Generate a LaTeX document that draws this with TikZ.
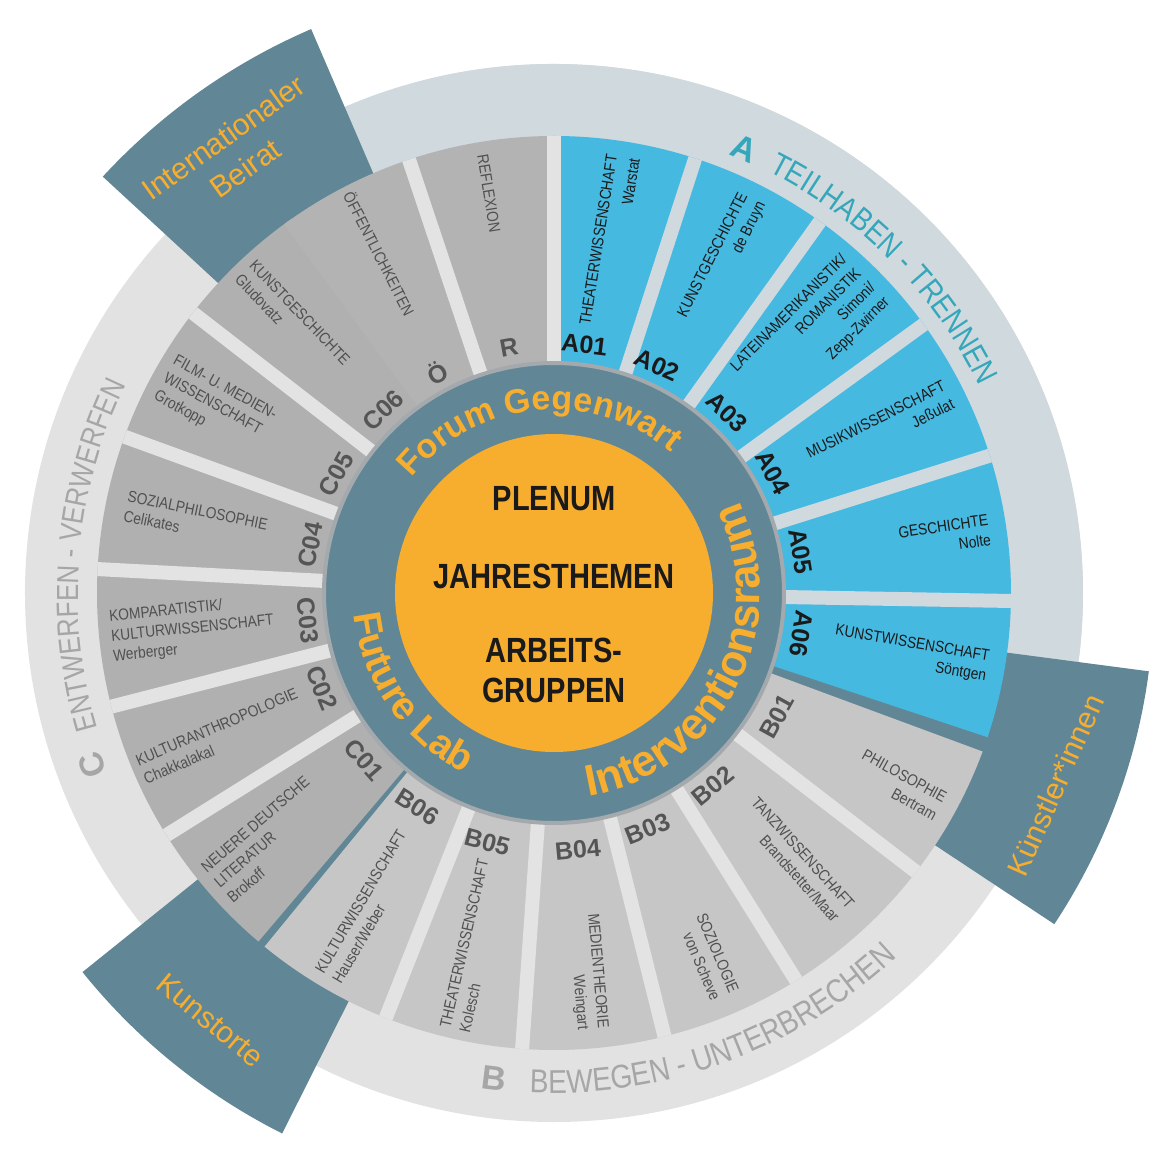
\documentclass[tikz,border=0pt]{standalone}
\usepackage{fontspec}
\setmainfont{Liberation Sans}
\newfontfamily\condfont[FakeStretch=0.83]{Liberation Sans}
\newfontfamily\bandfont[FakeStretch=0.85]{Liberation Sans}
\newfontfamily\namefont[FakeStretch=0.86]{Liberation Sans}
\usepackage{xcolor}
\usetikzlibrary{decorations.text}

\definecolor{orangeC}{HTML}{F7AE2F}
\definecolor{slate}{HTML}{618796}
\definecolor{skyA}{HTML}{46B9E1}
\definecolor{greyB}{HTML}{C6C6C6}
\definecolor{greyC}{HTML}{B0B0B0}
\definecolor{greyR}{HTML}{B3B3B3}
\definecolor{bandA}{HTML}{CFD9DE}
\definecolor{bandG}{HTML}{E2E2E2}
\definecolor{gapL}{HTML}{E3E3E3}
\definecolor{tealT}{HTML}{35A7BA}
\definecolor{bandtxt}{HTML}{A6A6A6}
\definecolor{codeG}{HTML}{555555}
\definecolor{nameG}{HTML}{505050}
\definecolor{ink}{HTML}{1A1A1A}
\definecolor{rim}{HTML}{A3A9AC}

\newcommand\ringfontS{\bfseries\fontsize{34}{34}\selectfont}
\newcommand\ringfontL{\bfseries\fontsize{44}{44}\selectfont}
\newcommand\ringfontM{\bfseries\fontsize{39}{39}\selectfont}
\newcommand\bandfontA{\bandfont\fontsize{32}{32}\selectfont}
\newcommand\bandfontB{\bandfont\fontsize{33}{33}\selectfont}
\newcommand\bandfontC{\bandfont\fontsize{30.5}{30.5}\selectfont}

\begin{document}
\begin{tikzpicture}[
    x=1pt, y=1pt,
    codelbl/.style={font=\bfseries\fontsize{25}{25}\selectfont, text=codeG, inner sep=0pt},
    codeA/.style={codelbl, text=ink},
    nameout/.style={font=\namefont\fontsize{16}{20}\selectfont, text=nameG, align=right,
                    anchor=east, inner sep=0pt},
    namein/.style={font=\namefont\fontsize{16}{20}\selectfont, text=nameG, align=left,
                   anchor=west, inner sep=0pt},
    nameA/.style={nameout, text=ink},
    boxlabel/.style={font=\fontsize{30}{38}\selectfont, text=orangeC, align=center, inner sep=0pt},
    corelbl/.style={font=\condfont\bfseries\fontsize{35}{35}\selectfont, text=ink, inner sep=0pt},
    sectionletter/.style={font=\bfseries\fontsize{34}{34}\selectfont, inner sep=0pt},
    gapA/.style={draw=bandA, line width=14},
    gapG/.style={draw=gapL, line width=14}
]
\useasboundingbox (-554,-569) rectangle (608,593);

% Outer bands
\fill[bandG] (0,0) circle[radius=529];
\fill[bandA] (0,0) -- (125:529) arc[start angle=125, end angle=-20, radius=529] -- cycle;

% Dark boxes behind the segments
\fill[slate] (0,0) -- (137.3:614) arc[start angle=137.3, end angle=113.3, radius=614] -- cycle;
\fill[slate] (0,0) -- (-7.5:600) arc[start angle=-7.5, end angle=-33.5, radius=600] -- cycle;
\fill[slate] (0,0) -- (-116.7:605) arc[start angle=-116.7, end angle=-141.2, radius=605] -- cycle;

% Segments
\fill[greyR] (0,0) -- (108.5:457) arc[start angle=108.5, end angle=90, radius=457] -- cycle;
\fill[skyA]  (0,0) -- (90:457) arc[start angle=90, end angle=72, radius=457] -- cycle;
\fill[skyA]  (0,0) -- (72:457) arc[start angle=72, end angle=54.4, radius=457] -- cycle;
\fill[skyA]  (0,0) -- (54.4:457) arc[start angle=54.4, end angle=36, radius=457] -- cycle;
\fill[skyA]  (0,0) -- (36:457) arc[start angle=36, end angle=17.5, radius=457] -- cycle;
\fill[skyA]  (0,0) -- (17.5:457) arc[start angle=17.5, end angle=-1, radius=457] -- cycle;
\fill[skyA]  (0,0) -- (-1:457) arc[start angle=-1, end angle=-18.4, radius=457] -- cycle;
\fill[greyB] (0,0) -- (-20.3:457) arc[start angle=-20.3, end angle=-37.6, radius=457] -- cycle;
\fill[greyB] (0,0) -- (-37.6:457) arc[start angle=-37.6, end angle=-58, radius=457] -- cycle;
\fill[greyB] (0,0) -- (-58:457) arc[start angle=-58, end angle=-76, radius=457] -- cycle;
\fill[greyB] (0,0) -- (-76:457) arc[start angle=-76, end angle=-94, radius=457] -- cycle;
\fill[greyB] (0,0) -- (-94:457) arc[start angle=-94, end angle=-111.6, radius=457] -- cycle;
\fill[greyB] (0,0) -- (-111.6:457) arc[start angle=-111.6, end angle=-129.3, radius=457] -- cycle;
\fill[greyC] (0,0) -- (-130.3:457) arc[start angle=-130.3, end angle=-148, radius=457] -- cycle;
\fill[greyC] (0,0) -- (-148:457) arc[start angle=-148, end angle=-165.6, radius=457] -- cycle;
\fill[greyC] (0,0) -- (-165.6:457) arc[start angle=-165.6, end angle=-183, radius=457] -- cycle;
\fill[greyC] (0,0) -- (177:457) arc[start angle=177, end angle=160, radius=457] -- cycle;
\fill[greyC] (0,0) -- (160:457) arc[start angle=160, end angle=142.2, radius=457] -- cycle;
\fill[greyC] (0,0) -- (142.2:457) arc[start angle=142.2, end angle=125, radius=457] -- cycle;
\fill[greyR] (0,0) -- (126.2:457) arc[start angle=126.2, end angle=108.5, radius=457] -- cycle;

% Gaps between segments
\draw[gapG] (0,0) -- (108.5:457);
\draw[gapG] (0,0) -- (90:457);
\draw[gapA] (0,0) -- (72:457);
\draw[gapA] (0,0) -- (54.4:457);
\draw[gapA] (0,0) -- (36:457);
\draw[gapA] (0,0) -- (17.5:457);
\draw[gapA] (0,0) -- (-1:457);
\draw[gapG] (0,0) -- (-37.6:457);
\draw[gapG] (0,0) -- (-58:457);
\draw[gapG] (0,0) -- (-76:457);
\draw[gapG] (0,0) -- (-94:457);
\draw[gapG] (0,0) -- (-111.6:457);
\draw[gapG] (0,0) -- (-148:457);
\draw[gapG] (0,0) -- (-165.6:457);
\draw[gapG] (0,0) -- (177:457);
\draw[gapG] (0,0) -- (160:457);
\draw[gapG] (0,0) -- (142.2:457);

% Ring and core
\filldraw[fill=slate, draw=rim, line width=4] (0,0) circle[radius=230];
\fill[orangeC] (0,0) circle[radius=159];

\node[corelbl] (plenum) at (0,94) {PLENUM};
\node[corelbl] (jahres) at (0,17) {JAHRESTHEMEN};
\node[corelbl] (arbeits) at (0,-57) {ARBEITS-};
\node[corelbl] (gruppen) at (0,-97) {GRUPPEN};

% Ring texts
\path[decorate, decoration={text along path, text align=center, text color=orangeC,
    text={|\ringfontS|Forum Gegenwart}}] (160.5:183) arc[start angle=160.5, end angle=30.5, radius=183];
\path[decorate, decoration={text along path, text align=center, text color=orangeC,
    text={|\ringfontL|Interventionsraum}}] (-100:206) arc[start angle=-100, end angle=46, radius=206];
\path[decorate, decoration={text along path, text align=center, text color=orangeC,
    text={|\ringfontM|Future Lab}}] (170:201) arc[start angle=170, end angle=259.6, radius=201];

% Band texts
\node[sectionletter, text=tealT, rotate=-23.2] (secA) at (66.8:483) {A};
\node[sectionletter, text=bandtxt, rotate=-7] (secB) at (-97:489) {B};
\node[sectionletter, text=bandtxt, rotate=110.4] (secC) at (200.4:493) {C};
\path[decorate, decoration={text along path, text align=center, text color=tealT,
    text={|\bandfontA|TEILHABEN - TRENNEN}}] (80:473) arc[start angle=80, end angle=9, radius=473];
\path[decorate, decoration={text along path, text align=center, text color=bandtxt,
    text={|\bandfontB|BEWEGEN - UNTERBRECHEN}}] (-110:500) arc[start angle=-110, end angle=-29.5, radius=500];
\path[decorate, decoration={text along path, text align=center, text color=bandtxt,
    text={|\bandfontC|ENTWERFEN - VERWERFEN}}] (215.25:476) arc[start angle=215.25, end angle=135.25, radius=476];

% Box labels
\node[boxlabel, rotate=35.5] (beirat) at (126:544) {Internationaler\\Beirat};
\node[boxlabel, rotate=66] (kuenstler) at (-21:537) {Künstler*innen};
\node[boxlabel, rotate=-39.5] (kunstorte) at (-128.8:548) {Kunstorte};

% Codes
\node[codeA, rotate=-7]    (codeA01) at (83:250) {A01};
\node[codeA, rotate=-24.4] (codeA02) at (65.6:250) {A02};
\node[codeA, rotate=-43.7] (codeA03) at (46.3:250) {A03};
\node[codeA, rotate=-61.1] (codeA04) at (28.9:250) {A04};
\node[codeA, rotate=-80.4] (codeA05) at (9.6:250) {A05};
\node[codeA, rotate=-99.4] (codeA06) at (-9.4:251) {A06};
\node[codelbl, rotate=61]    (codeB01) at (-29:255) {B01};
\node[codelbl, rotate=39.5]  (codeB02) at (-50.5:250) {B02};
\node[codelbl, rotate=21.7]  (codeB03) at (-68.3:254) {B03};
\node[codelbl, rotate=5.3]   (codeB04) at (-84.7:258) {B04};
\node[codelbl, rotate=-15]   (codeB05) at (-105:258) {B05};
\node[codelbl, rotate=-32.6] (codeB06) at (-122.6:254) {B06};
\node[codelbl, rotate=-48.7] (codeC01) at (-138.7:253) {C01};
\node[codelbl, rotate=-67.7] (codeC02) at (-157.7:251) {C02};
\node[codelbl, rotate=-83.7] (codeC03) at (-173.7:248) {C03};
\node[codelbl, rotate=78.8]  (codeC04) at (168.8:248) {C04};
\node[codelbl, rotate=61.4]  (codeC05) at (151.4:248) {C05};
\node[codelbl, rotate=43]    (codeC06) at (133:250) {C06};
\node[codelbl, rotate=28]    (codeOe)  at (118:250) {Ö};
\node[codelbl, rotate=10.4]  (codeR)   at (100.4:250) {R};

% Segment names
\node[nameA, rotate=81]    (nameA01) at (81:442) {THEATERWISSENSCHAFT\\[3pt]Warstat};
\node[nameA, rotate=63.2]  (nameA02) at (63.2:442) {KUNSTGESCHICHTE\\de Bruyn};
\node[nameA, rotate=45.2]  (nameA03) at (45.2:443) {LATEINAMERIKANISTIK/\\ROMANISTIK\\Simoni/\\Zepp-Zwirner};
\node[nameA, rotate=26.75] (nameA04) at (26.75:442) {MUSIKWISSENSCHAFT\\Jeßulat};
\node[nameA, rotate=8.25]  (nameA05) at (8.25:440) {GESCHICHTE\\Nolte};
\node[nameA, rotate=-9.7]  (nameA06) at (-9.7:440) {KUNSTWISSENSCHAFT\\Söntgen};
\node[nameout, rotate=-29]   (nameB01) at (-29:442) {PHILOSOPHIE\\Bertram};
\node[nameout, rotate=-47.8] (nameB02) at (-47.8:432) {TANZWISSENSCHAFT\\Brandstetter/Maar};
\node[nameout, rotate=-67]   (nameB03) at (-67:438) {SOZIOLOGIE\\von Scheve};
\node[nameout, rotate=-85]   (nameB04) at (-85:438) {MEDIENTHEORIE\\Weingart};
\node[namein, rotate=77.2]   (nameB05) at (-102.8:448) {THEATERWISSENSCHAFT\\Kolesch};
\node[namein, rotate=59.5]   (nameB06) at (-120.5:446) {KULTURWISSENSCHAFT\\Hauser/Weber};
\node[namein, rotate=40.8]   (nameC01) at (-139.2:446) {NEUERE DEUTSCHE\\LITERATUR\\Brokoff};
\node[namein, rotate=23.2]   (nameC02) at (-156.8:450) {KULTURANTHROPOLOGIE\\Chakkalakal};
\node[namein, rotate=5.7]    (nameC03) at (-174.3:445) {KOMPARATISTIK/\\KULTURWISSENSCHAFT\\Werberger};
\node[namein, rotate=-11.5]  (nameC04) at (168.5:437) {SOZIALPHILOSOPHIE\\Celikates};
\node[namein, rotate=-28.9]  (nameC05) at (151.1:445) {FILM- U. MEDIEN-\\WISSENSCHAFT\\Grotkopp};
\node[namein, rotate=-46.3]  (nameC06) at (133.7:447) {KUNSTGESCHICHTE\\Gludovatz};
\node[namein, rotate=-62.8]  (nameOe)  at (117.2:450) {ÖFFENTLICHKEITEN};
\node[namein, rotate=-80.75] (nameR)   at (99.25:444) {REFLEXION};

\end{tikzpicture}
\end{document}
